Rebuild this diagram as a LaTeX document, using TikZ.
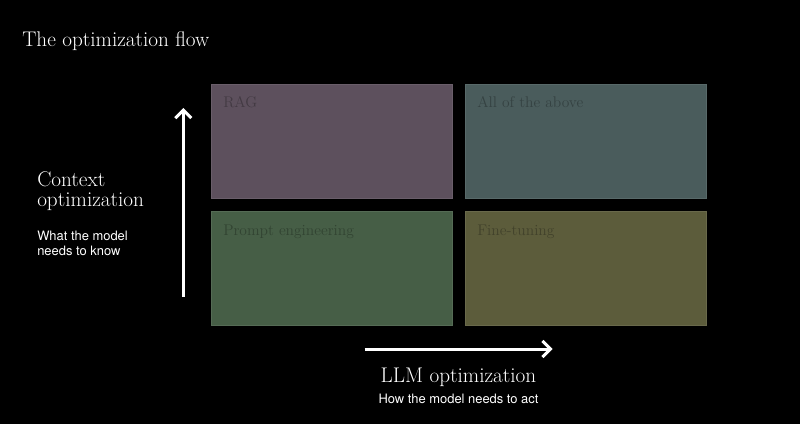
\documentclass[tikz,border=0pt]{standalone}
\usepackage{fontspec}
\setsansfont{TeX Gyre Heros}
\usetikzlibrary{arrows.meta}
\definecolor{ragc}{HTML}{5D505D}
\definecolor{allc}{HTML}{4A5C5C}
\definecolor{prc}{HTML}{465E46}
\definecolor{ftc}{HTML}{5C5C3B}
\tikzset{
  quad/.style={draw=#1!92!white, fill=#1, line width=0.8pt, minimum width=180.75pt, minimum height=85.5pt, inner sep=0pt, anchor=north west},
  qlabel/.style={text=#1!72!black, font=\fontsize{11.6}{14}\selectfont, anchor=base west, inner sep=0pt},
  head/.style={text=white, font=\fontsize{15.9}{19}\selectfont, inner sep=0pt},
  sub/.style={text=white, font=\sffamily\fontsize{9.7}{11.5}\selectfont, inner sep=0pt},
  axis/.style={white, line width=2.25pt, -{Straight Barb[length=6pt, width=12pt, line width=2.25pt]}}
}
\begin{document}
\begin{tikzpicture}[x=0.75pt, y=-0.75pt]
\fill[black] (0,0) rectangle (800,424);
\useasboundingbox (0,0) rectangle (800,424);
\node[head, anchor=base west] (title) at (22,47) {The optimization flow};
\node[quad=ragc] (rag) at (211,84) {};
\node[quad=allc] (all) at (464.5,84) {};
\node[quad=prc] (pr) at (211,211) {};
\node[quad=ftc] (ft) at (464.5,211) {};
\node[qlabel=ragc] (ragl) at (223,108) {RAG};
\node[qlabel=allc] (alll) at (477,108) {All of the above};
\node[qlabel=prc] (prl) at (223,236) {Prompt engineering};
\node[qlabel=ftc] (ftl) at (477,236) {Fine-tuning};
\coordinate (vs) at (183.3,296.5);
\coordinate (ve) at (183.3,108);
\draw[axis] (vs) -- (ve);
\coordinate (hs) at (364.5,349);
\coordinate (he) at (552.5,349);
\draw[axis] (hs) -- (he);
\node[head, anchor=base west, align=left] (ctx1) at (37,187) {Context};
\node[head, anchor=base west] (ctx2) at (37,207) {optimization};
\node[sub, anchor=base west] (ctx3) at (37,241) {What the model};
\node[sub, anchor=base west] (ctx4) at (37,255.5) {needs to know};
\node[head, anchor=base] (llm) at (458.5,382) {LLM optimization};
\node[sub, anchor=base] (llms) at (458.5,403.5) {How the model needs to act};
\end{tikzpicture}
\end{document}
